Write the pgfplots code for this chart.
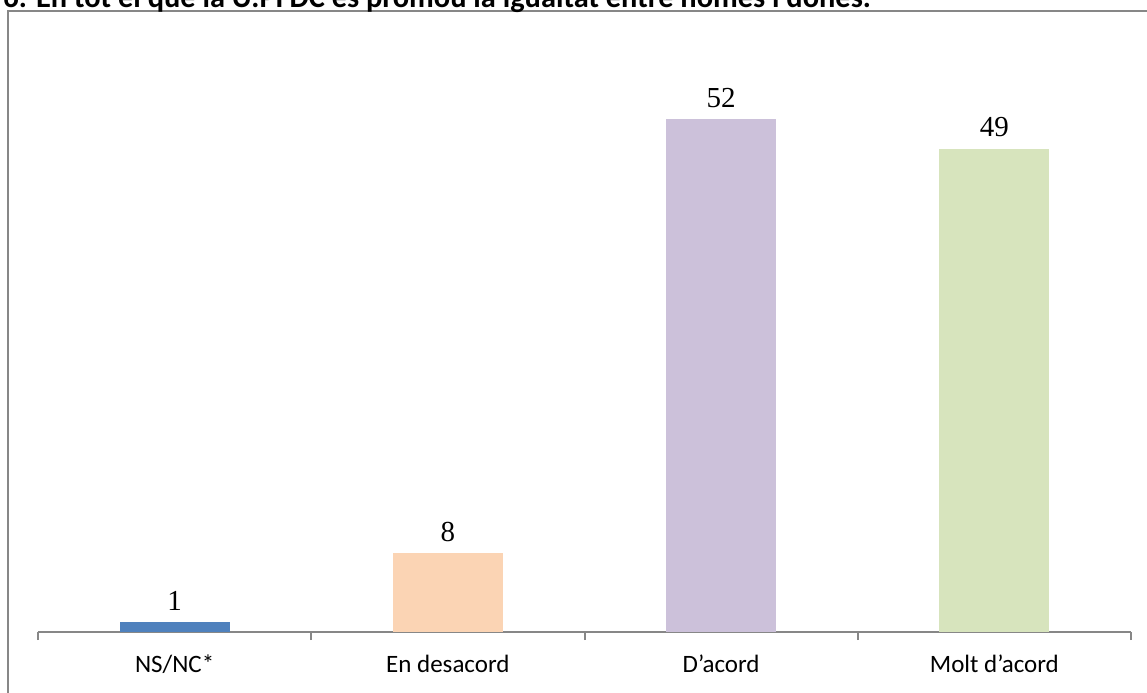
\documentclass[border=0pt]{standalone}
\usepackage{fontspec}
\setmainfont{Carlito}
\newfontfamily\seriffont{Liberation Serif}
\usepackage{pgfplots}
\pgfplotsset{compat=1.18}
\definecolor{framegray}{HTML}{878787}
\definecolor{c1}{HTML}{4F81BD}
\definecolor{c2}{HTML}{FBD4B4}
\definecolor{c3}{HTML}{CCC1DA}
\definecolor{c4}{HTML}{D7E4BD}
\begin{document}
\begin{tikzpicture}
\useasboundingbox (0,0) rectangle (573.5pt,346pt);
\draw[framegray, line width=1pt] (3.75pt,-20pt) -- (3.75pt,340.25pt) -- (600pt,340.25pt);
\node[anchor=base west, inner sep=0pt, font=\fontsize{15.2}{17}\selectfont\bfseries] at (1.5pt,342.3pt) {6. En tot el que la U.PFDC és promou la igualtat entre homes i dones.};
\begin{axis}[
  at={(19pt,30pt)}, anchor=south west,
  scale only axis, width=546.5pt, height=296pt,
  xmin=-0.5, xmax=3.5, ymin=0, ymax=60,
  axis y line=none,
  axis x line*=bottom,
  x axis line style={framegray, line width=1pt, -},
  xtick={0,1,2,3},
  xticklabels={NS/NC*, En desacord, D’acord, Molt d’acord},
  major tick length=0pt,
  minor xtick={-0.5,0.5,1.5,2.5,3.5},
  minor tick length=4pt,
  tick align=outside,
  minor tick style={framegray, line width=1pt},
  xticklabel style={font=\fontsize{12.5}{14}\selectfont, anchor=center, yshift=-16pt},
  ybar, bar width=55pt, bar shift=0pt,
  nodes near coords,
  /pgf/number format/assume math mode=true,
  every node near coord/.append style={font=\seriffont\fontsize{14.5}{16}\selectfont, black, inner sep=0pt, anchor=south, yshift=5.5pt},
  clip=false,
]
\addplot[fill=c1, draw=none] coordinates {(0,1)};
\addplot[fill=c2, draw=none] coordinates {(1,8)};
\addplot[fill=c3, draw=none] coordinates {(2,52)};
\addplot[fill=c4, draw=none] coordinates {(3,49)};
\end{axis}
\end{tikzpicture}
\end{document}
